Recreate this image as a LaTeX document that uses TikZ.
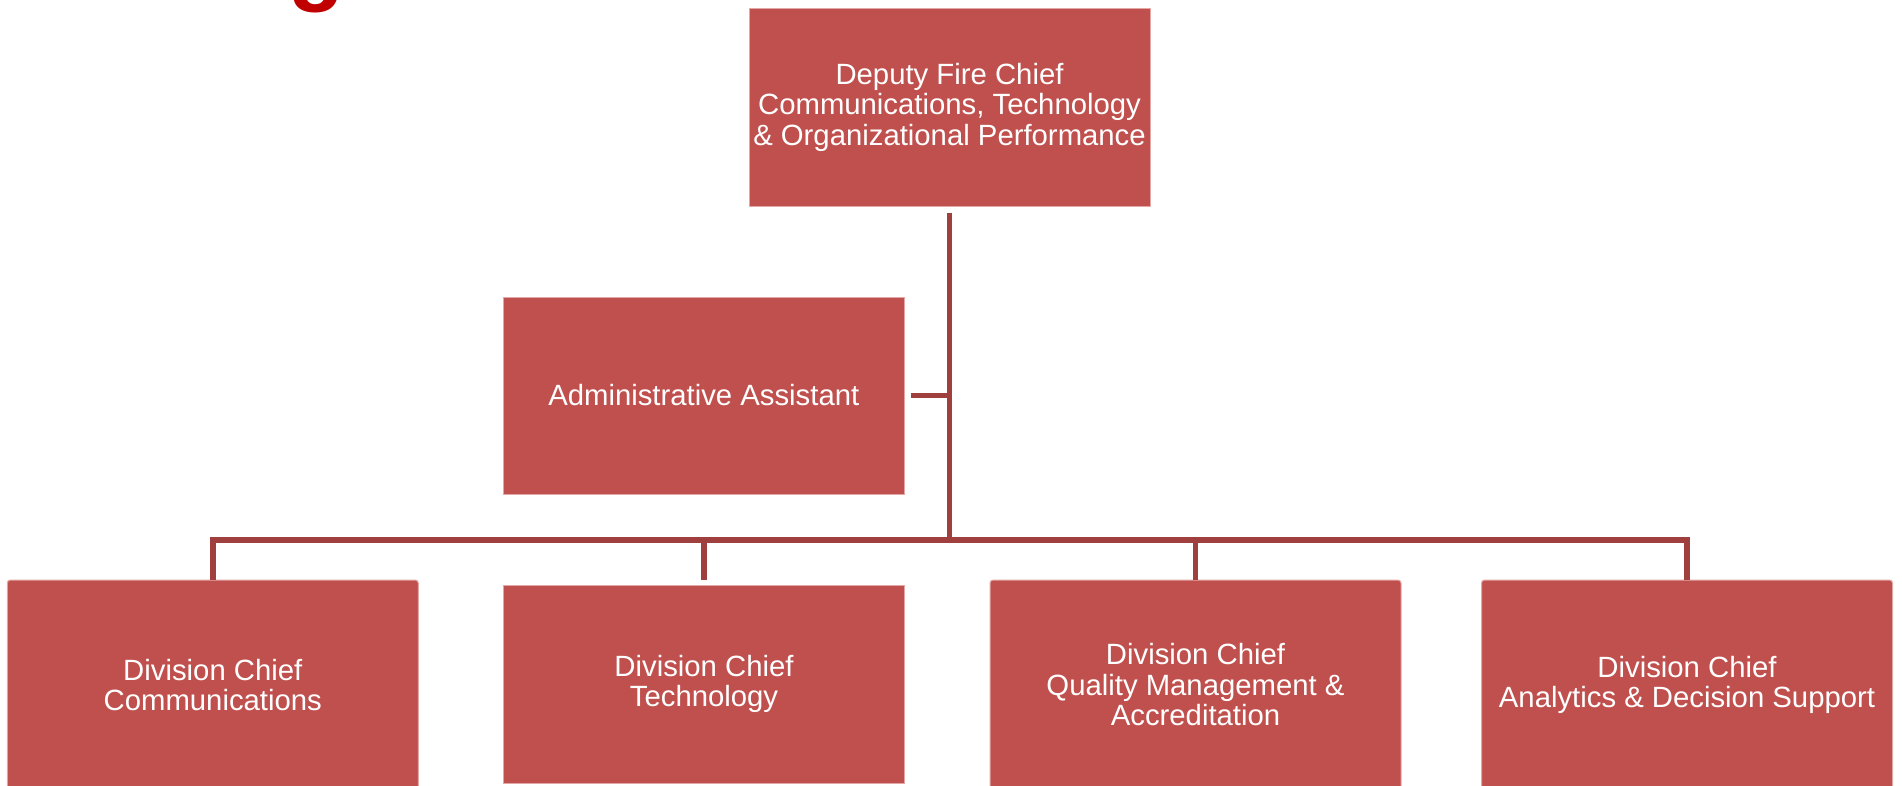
\documentclass[tikz,border=0pt]{standalone}
\usepackage{fontspec}
\setmainfont{Liberation Sans}
\definecolor{boxfill}{HTML}{C0504D}
\definecolor{boxedge}{HTML}{E3A8A6}
\definecolor{connred}{HTML}{A0403E}
\definecolor{titlered}{HTML}{C00000}
\begin{document}
\begin{tikzpicture}[x=1pt,y=-1pt,
  orgbox/.style={rectangle, fill=boxfill, draw=boxedge, line width=1pt,
    text=white, align=center, inner sep=0pt,
    font=\fontsize{29.3}{30.5}\selectfont},
  roundbox/.style={orgbox, rounded corners=3pt},
  conn/.style={draw=connred, line width=5.5pt, line join=miter}]
\useasboundingbox (0,0) rectangle (1902,785);
\clip (0,0) rectangle (1902,785);
% fragment of the title above the chart
\node[anchor=base west, inner sep=0pt, text=titlered,
  font=\fontsize{92}{92}\selectfont\bfseries] (ttl) at (288,-6.8) {g};
% boxes
\node[orgbox, minimum width=401pt, minimum height=198pt] (top) at (949.5,107)
  {\rule{0pt}{3pt}Deputy Fire Chief\\Communications, Technology\\\& Organizational Performance};
\node[orgbox, minimum width=401pt, minimum height=197pt] (admin) at (703.8,395.5)
  {Administrative Assistant};
\node[roundbox, minimum width=411pt, minimum height=210pt] (comm) at (212.8,685)
  {Division Chief\\Communications};
\node[orgbox, minimum width=401pt, minimum height=198pt] (tech) at (704,684)
  {Division Chief\\Technology};
\node[roundbox, minimum width=411pt, minimum height=210pt] (qm) at (1195.5,685)
  {Division Chief\\Quality Management \&\\Accreditation};
\node[roundbox, minimum width=411pt, minimum height=210pt] (anal) at (1687,685)
  {Division Chief\\Analytics \& Decision Support};
% connectors
\coordinate (bus) at (949.5,540);
\draw[conn] ([yshift=-6pt]top.south) -- (bus);
\draw[conn] ([xshift=6pt]admin.east) -- (admin.east -| bus);
\draw[conn] (comm.north) -- (comm.north |- bus) -- (anal.north |- bus) -- (anal.north);
\draw[conn] (tech.north |- bus) -- ([yshift=5pt]tech.north);
\draw[conn] (qm.north |- bus) -- (qm.north);
\end{tikzpicture}
\end{document}
